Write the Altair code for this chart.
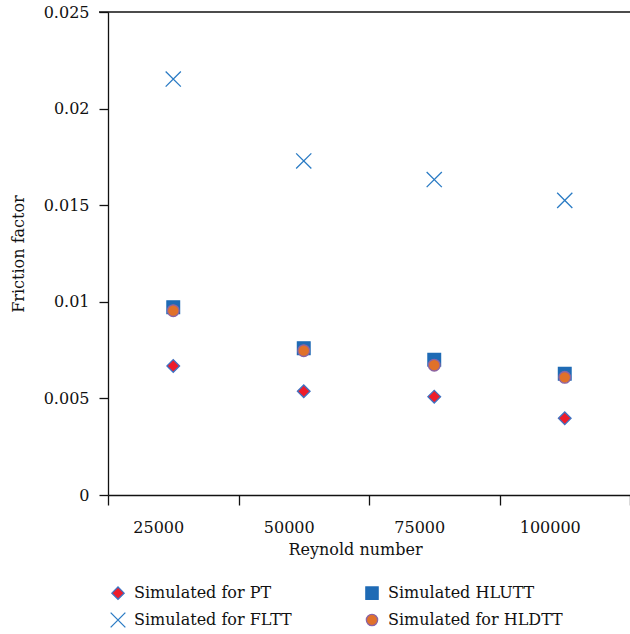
import altair as alt
import pandas as pd

reynolds = ["25000", "50000", "75000", "100000"]
series_names = ["Simulated for PT", "Simulated for FLTT", "Simulated HLUTT", "Simulated for HLDTT"]
pt = [0.00668, 0.00537, 0.00509, 0.00397]
fltt = [0.02153, 0.01729, 0.01633, 0.01525]
hlutt = [0.00972, 0.00760, 0.00700, 0.00628]
hldtt = [0.00954, 0.00747, 0.00672, 0.00609]

rows = []
for name, vals in zip(series_names, [pt, fltt, hlutt, hldtt]):
    for r, v in zip(reynolds, vals):
        rows.append({"re": r, "f": v, "series": name})
df = pd.DataFrame(rows)

FONT = "DejaVu Serif"
xpath = "M-1.2,-1.2L1.2,1.2M-1.2,1.2L1.2,-1.2"
cpath = "M0.92,0A0.92,0.92,0,1,1,-0.92,0A0.92,0.92,0,1,1,0.92,0Z"

points = alt.Chart(df).mark_point(filled=True, opacity=1, strokeWidth=1.3, size=160).encode(
    x=alt.X("re:N", sort=reynolds, title="Reynold number",
            scale=alt.Scale(paddingInner=0, paddingOuter=0),
            axis=alt.Axis(tickBand="extent", labelAngle=0, tickSize=10, labelOffset=-15,
                          labelPadding=14, titlePadding=6, titleX=247, domainColor="#111",
                          tickColor="#111", domainWidth=1.3, tickWidth=1.3)),
    y=alt.Y("f:Q", title="Friction factor",
            scale=alt.Scale(domain=[0, 0.025], nice=False),
            axis=alt.Axis(values=[0, 0.005, 0.01, 0.015, 0.02, 0.025], format="~g",
                          tickSize=9, labelPadding=10, titlePadding=17, grid=False,
                          domainColor="#111", tickColor="#111", domainWidth=1.3, tickWidth=1.3)),
    shape=alt.Shape("series:N", sort=series_names,
                    scale=alt.Scale(domain=series_names,
                                    range=["diamond", xpath, "square", cpath]),
                    legend=alt.Legend(title=None, orient="none", columns=2, legendX=2, legendY=573,
                                      columnPadding=71, rowPadding=8, symbolSize=150,
                                      labelOffset=8, labelFontSize=16, labelFont=FONT,
                                      symbolStrokeWidth=1.3, labelLimit=300)),
    fill=alt.Fill("series:N", sort=series_names,
                  scale=alt.Scale(domain=series_names,
                                  range=["#EE1D2B", "transparent", "#1F6BB5", "#E0712A"])),
    stroke=alt.Stroke("series:N", sort=series_names,
                      scale=alt.Scale(domain=series_names,
                                      range=["#3F72C2", "#2A7BC4", "#1F6BB5", "#8A64A6"])),
)

toprule = alt.Chart(alt.Data(values=[{}])).mark_rule(color="#111", strokeWidth=1.3).encode(
    x=alt.value(-9), x2=alt.value(522), y=alt.value(0)
)

chart = alt.layer(points, toprule).properties(
    width=522, height=483,
    autosize=alt.AutoSizeParams(type="none"),
    padding={"left": 108, "top": 12, "right": 0, "bottom": 139},
).configure_view(stroke=None).configure_axis(
    labelFont=FONT, titleFont=FONT, labelFontSize=16, titleFontSize=16,
    labelColor="#111", titleColor="#111", titleFontWeight="normal"
).configure_legend(labelColor="#111")

chart.save("out.html", embed_options={"renderer": "svg", "actions": False})
